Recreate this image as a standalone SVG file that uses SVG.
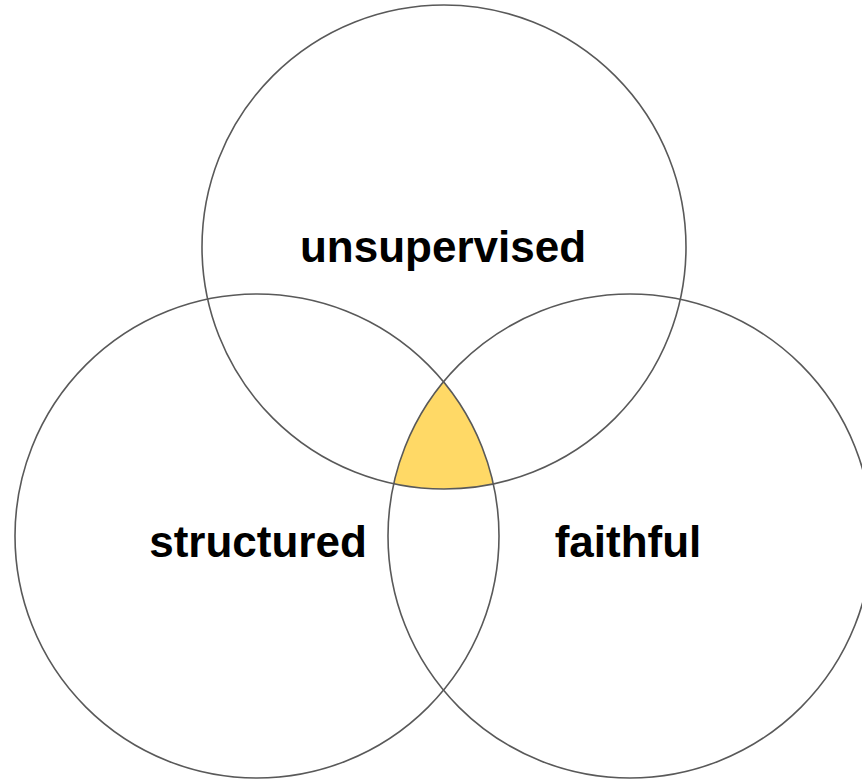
<svg xmlns="http://www.w3.org/2000/svg" width="862" height="780" viewBox="0 0 862 780">
<style>
.c{fill:none;stroke:#595959;stroke-width:1.6}
.t{font-family:"Liberation Sans",Arial,sans-serif;font-weight:bold;font-size:44px;fill:#000;text-anchor:middle}
</style>
<defs>
<clipPath id="clipTop"><circle cx="444" cy="247" r="242"/></clipPath>
<clipPath id="clipLeft"><circle cx="257" cy="536" r="242"/></clipPath>
</defs>
<rect width="862" height="780" fill="#fff"/>
<g id="intersection" clip-path="url(#clipTop)">
<g clip-path="url(#clipLeft)">
<circle cx="630" cy="536" r="242" fill="#ffd966"/>
</g>
</g>
<g id="unsupervised"><circle class="c" cx="444" cy="247" r="242"/><text class="t" x="443" y="262">unsupervised</text></g>
<g id="structured"><circle class="c" cx="257" cy="536" r="242"/><text class="t" x="258" y="557">structured</text></g>
<g id="faithful"><circle class="c" cx="630" cy="536" r="242"/><text class="t" x="628" y="557">faithful</text></g>
</svg>
